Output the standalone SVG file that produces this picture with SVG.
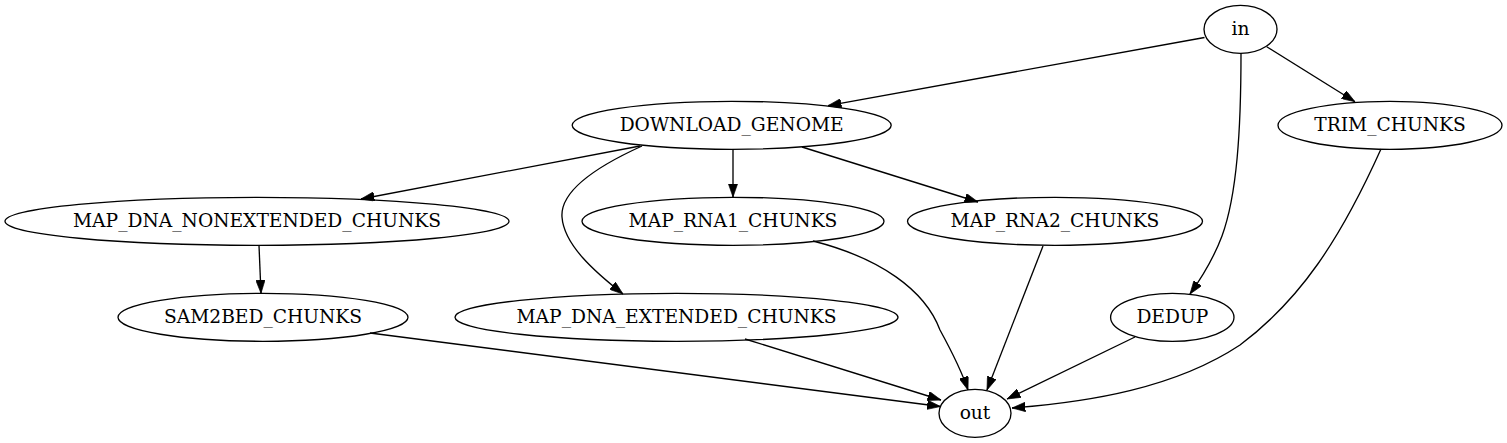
<svg xmlns="http://www.w3.org/2000/svg" width="1507" height="443" viewBox="0 0 1507 443">
<defs>
<style>
.node ellipse{fill:none;stroke:#000;stroke-width:1.33}
.node text{font-family:"DejaVu Serif","Liberation Serif",serif;font-size:18.67px;text-anchor:middle;fill:#000}
.edges path{fill:none;stroke:#000;stroke-width:1.33;marker-end:url(#arr)}
</style>
<marker id="arr" viewBox="0 0 10 7" refX="10" refY="3.5" markerUnits="userSpaceOnUse" markerWidth="13.33" markerHeight="9.33" orient="auto">
<path d="M0,0 L10,3.5 L0,7 z" fill="#000" stroke="#000" stroke-width="0.5"/>
</marker>
</defs>
<rect width="1507" height="443" fill="#fff"/>
<g class="edges">
<path d="M1204.5,37.5 L828,105.7"/>
<path d="M1266.7,46.7 L1355,101.7"/>
<path d="M1241,53 C1241,130 1237,195 1222,236 C1213,260 1200,280 1190,294"/>
<path d="M640,146 L361,199"/>
<path d="M733,149 L733,197"/>
<path d="M802,147 L978,202"/>
<path d="M642,146 C600,165 560,190 562,217 C564,245 595,272 623,294"/>
<path d="M259,245.3 L261,293.3"/>
<path d="M370,333 L940.5,406.5"/>
<path d="M745,339 L941,400"/>
<path d="M813,241 C880,258 925,290 940,330 C952,352 962,372 968,390"/>
<path d="M1043,246 L987,390"/>
<path d="M1135,337 L1007,399"/>
<path d="M1381,149 C1340,240 1300,300 1240,345 C1175,388 1090,402 1012,408"/>
</g>
<g id="node-in" class="node"><ellipse cx="1240.5" cy="29.3" rx="36.5" ry="24"/><text x="1240.5" y="34.9">in</text></g>
<g id="node-download_genome" class="node"><ellipse cx="731.7" cy="125.3" rx="159.5" ry="24"/><text x="731.7" y="130.9">DOWNLOAD_GENOME</text></g>
<g id="node-trim_chunks" class="node"><ellipse cx="1390" cy="125.3" rx="112" ry="24"/><text x="1390" y="130.9">TRIM_CHUNKS</text></g>
<g id="node-map_dna_nonextended_chunks" class="node"><ellipse cx="257" cy="221.3" rx="252" ry="24"/><text x="257" y="226.9">MAP_DNA_NONEXTENDED_CHUNKS</text></g>
<g id="node-map_rna1_chunks" class="node"><ellipse cx="733" cy="221.3" rx="151" ry="24"/><text x="733" y="226.9">MAP_RNA1_CHUNKS</text></g>
<g id="node-map_rna2_chunks" class="node"><ellipse cx="1055" cy="221.3" rx="147.5" ry="24"/><text x="1055" y="226.9">MAP_RNA2_CHUNKS</text></g>
<g id="node-sam2bed_chunks" class="node"><ellipse cx="263" cy="317.3" rx="145" ry="24"/><text x="263" y="322.9">SAM2BED_CHUNKS</text></g>
<g id="node-map_dna_extended_chunks" class="node"><ellipse cx="676.5" cy="317.3" rx="221.5" ry="24"/><text x="676.5" y="322.9">MAP_DNA_EXTENDED_CHUNKS</text></g>
<g id="node-dedup" class="node"><ellipse cx="1172.3" cy="317.3" rx="61.7" ry="24"/><text x="1172.3" y="322.9">DEDUP</text></g>
<g id="node-out" class="node"><ellipse cx="975" cy="413.3" rx="36" ry="24"/><text x="975" y="418.9">out</text></g>
</svg>
